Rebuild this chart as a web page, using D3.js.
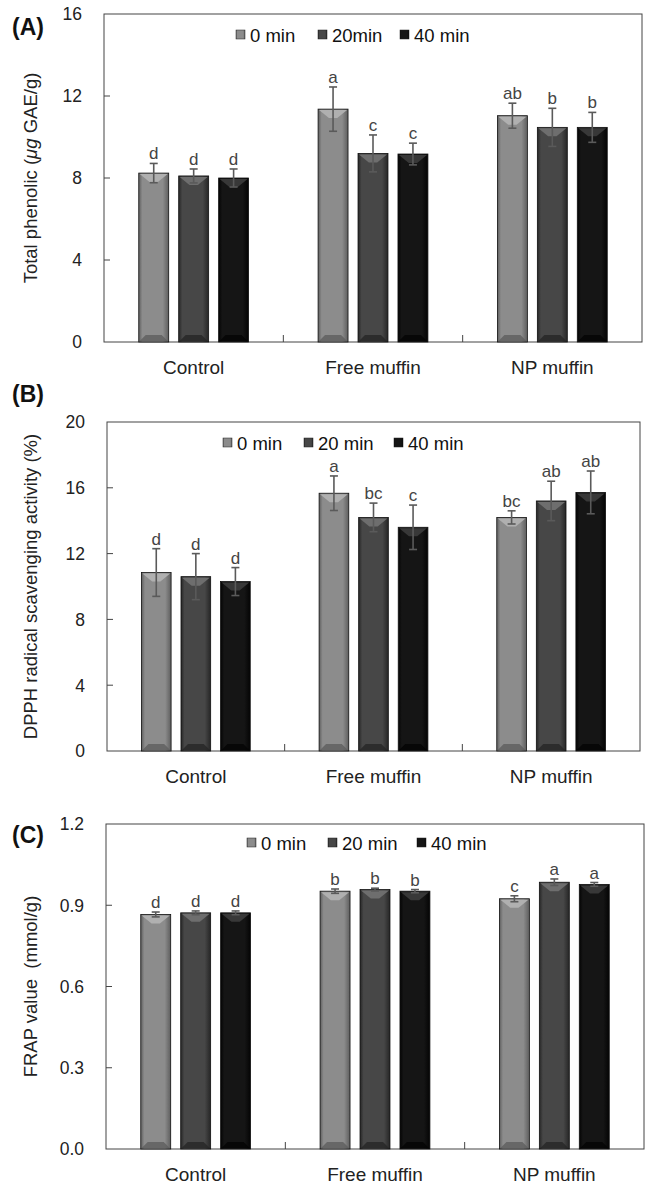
<!DOCTYPE html>
<html>
<head>
<meta charset="utf-8">
<script src="https://cdn.jsdelivr.net/npm/d3@7"></script>
<style>
  body { margin: 0; background: #fff; }
  svg { display: block; font-family: "Liberation Sans", Arial, sans-serif; }
</style>
</head>
<body>
<svg id="chart" width="649" height="1184"></svg>
<script>
// categories and series
var categories = ["Control", "Free muffin", "NP muffin"];
var seriesA = ["0 min", "20min", "40 min"];
var seriesBC = ["0 min", "20 min", "40 min"];

// (A) total phenolic
var phenolicMean = [[8.24, 8.10, 8.00], [11.36, 9.20, 9.17], [11.04, 10.47, 10.47]];
var phenolicSd = [[0.47, 0.34, 0.44], [1.08, 0.90, 0.53], [0.61, 0.93, 0.73]];
var phenolicLetters = [["d", "d", "d"], ["a", "c", "c"], ["ab", "b", "b"]];
var phenolicTicks = [0, 4, 8, 12, 16];

// (B) DPPH
var dpphMean = [[10.85, 10.6, 10.3], [15.67, 14.2, 13.6], [14.2, 15.2, 15.72]];
var dpphSd = [[1.45, 1.4, 0.85], [1.05, 0.87, 1.35], [0.4, 1.2, 1.3]];
var dpphLetters = [["d", "d", "d"], ["a", "bc", "c"], ["bc", "ab", "ab"]];
var dpphTicks = [0, 4, 8, 12, 16, 20];

// (C) FRAP
var frapMean = [[0.866, 0.872, 0.872], [0.952, 0.958, 0.952], [0.924, 0.985, 0.977]];
var frapSd = [[0.009, 0.007, 0.007], [0.008, 0.005, 0.006], [0.011, 0.012, 0.007]];
var frapLetters = [["d", "d", "d"], ["b", "b", "b"], ["c", "a", "a"]];
var frapTicks = [0, 0.3, 0.6, 0.9, 1.2];

// bar colours: [edge, base, highlight]
var barColors = [["#5e5e5e", "#8c8c8c", "#b0b0b0"], ["#262626", "#474747", "#6e6e6e"], ["#040404", "#151515", "#383838"]];

var svg = d3.select("#chart");
var defs = svg.append("defs");

barColors.forEach(function (c, i) {
  var g = defs.append("linearGradient").attr("id", "grad" + i)
    .attr("x1", "0%").attr("x2", "100%").attr("y1", "0%").attr("y2", "0%");
  g.append("stop").attr("offset", "0%").attr("stop-color", c[0]);
  g.append("stop").attr("offset", "12%").attr("stop-color", c[1]);
  g.append("stop").attr("offset", "80%").attr("stop-color", c[1]);
  g.append("stop").attr("offset", "100%").attr("stop-color", c[0]);
});

function drawPanel(p) {
  var chartWidth = p.right - p.left;
  var chartHeight = p.bottom - p.top;
  var chart = svg.append("g").attr("transform", `translate(${p.left}, ${p.top})`);

  var xScale = d3.scaleBand().domain(categories).range([0, chartWidth]);
  var xSub = d3.scaleBand().domain(p.series).range([0, xScale.bandwidth()])
    .paddingInner(0.25).paddingOuter(0.87);
  var yScale = d3.scaleLinear().domain(p.domain).range([chartHeight, 0]);

  // frame
  chart.append("rect")
    .attr("width", chartWidth).attr("height", chartHeight)
    .attr("fill", "none").attr("stroke", "#444").attr("stroke-width", 1);

  // y ticks (inward) and labels
  chart.selectAll(".ytick").data(p.ticks.slice(1, -1)).join("line")
    .attr("x1", 0).attr("x2", 6)
    .attr("y1", d => yScale(d)).attr("y2", d => yScale(d))
    .attr("stroke", "#444");
  chart.selectAll(".ylab").data(p.ticks).join("text")
    .attr("x", -22).attr("y", d => yScale(d))
    .attr("dy", "0.36em")
    .attr("text-anchor", "end")
    .style("font-size", "17.5px").attr("fill", "#222")
    .text(d => p.format(d));

  // category separators
  chart.selectAll(".xsep").data(categories.slice(1)).join("line")
    .attr("x1", d => xScale(d)).attr("x2", d => xScale(d))
    .attr("y1", chartHeight).attr("y2", chartHeight - 7)
    .attr("stroke", "#444");

  // category labels
  chart.selectAll(".xlab").data(categories).join("text")
    .attr("x", d => xScale(d) + xScale.bandwidth() / 2)
    .attr("y", chartHeight + 32)
    .attr("text-anchor", "middle")
    .style("font-size", "19px").attr("fill", "#222")
    .text(d => d);

  // bars
  var flat = [];
  categories.forEach(function (c, ci) {
    p.series.forEach(function (s, si) {
      flat.push({ cat: c, s: s, si: si, v: p.mean[ci][si], sd: p.sd[ci][si], letter: p.letters[ci][si] });
    });
  });

  var bars = chart.selectAll(".bar").data(flat).join("g");
  bars.append("rect")
    .attr("x", d => xScale(d.cat) + xSub(d.s))
    .attr("y", d => yScale(d.v))
    .attr("width", xSub.bandwidth())
    .attr("height", d => chartHeight - yScale(d.v))
    .attr("fill", d => "url(#grad" + d.si + ")")
    .attr("stroke", "#111").attr("stroke-width", 0.8);

  // top bevel
  bars.append("path")
    .attr("d", function (d) {
      var x = xScale(d.cat) + xSub(d.s), w = xSub.bandwidth(), y = yScale(d.v);
      return `M${x + 1},${y + 1}L${x + w - 1},${y + 1}L${x + w * 0.64},${y + 9}L${x + w * 0.36},${y + 9}Z`;
    })
    .attr("fill", d => barColors[d.si][2]);

  // bottom bevel
  bars.append("path")
    .attr("d", function (d) {
      var x = xScale(d.cat) + xSub(d.s), w = xSub.bandwidth(), y = chartHeight;
      return `M${x + 1},${y - 1}L${x + w - 1},${y - 1}L${x + w - 7},${y - 7}L${x + 7},${y - 7}Z`;
    })
    .attr("fill", d => barColors[d.si][0]).attr("opacity", 0.8);

  // error bars
  var ex = d => xScale(d.cat) + xSub(d.s) + xSub.bandwidth() / 2;
  bars.append("line")
    .attr("x1", ex).attr("x2", ex)
    .attr("y1", d => yScale(d.v + d.sd)).attr("y2", d => yScale(d.v - d.sd))
    .attr("stroke", "#5a5a5a").attr("stroke-width", 1.6);
  bars.append("line")
    .attr("x1", d => ex(d) - 4).attr("x2", d => ex(d) + 4)
    .attr("y1", d => yScale(d.v + d.sd)).attr("y2", d => yScale(d.v + d.sd))
    .attr("stroke", "#5a5a5a").attr("stroke-width", 1.6);
  bars.append("line")
    .attr("x1", d => ex(d) - 4).attr("x2", d => ex(d) + 4)
    .attr("y1", d => yScale(d.v - d.sd)).attr("y2", d => yScale(d.v - d.sd))
    .attr("stroke", "#5a5a5a").attr("stroke-width", 1.6);

  // significance letters
  bars.append("text")
    .attr("x", ex)
    .attr("y", d => yScale(d.v + d.sd) - 4)
    .attr("text-anchor", "middle")
    .style("font-size", "17px").attr("fill", "#444")
    .text(d => d.letter);

  // legend
  var legend = svg.append("g");
  p.series.forEach(function (s, i) {
    legend.append("rect")
      .attr("x", p.legendX[i]).attr("y", p.legendY - 5)
      .attr("width", 9).attr("height", 9)
      .attr("fill", "url(#grad" + i + ")").attr("stroke", "#222").attr("stroke-width", 0.5);
    legend.append("text")
      .attr("x", p.legendX[i] + 14).attr("y", p.legendY)
      .attr("dy", "0.36em")
      .style("font-size", "18.5px").attr("fill", "#111")
      .text(s);
  });

  // panel title
  svg.append("text")
    .attr("x", 12).attr("y", p.titleY)
    .style("font-size", "23px").style("font-weight", "bold").attr("fill", "#111")
    .text(p.title);

  // y axis label
  var yl = svg.append("text")
    .attr("transform", `translate(37, ${p.top + chartHeight / 2}) rotate(-90)`)
    .attr("text-anchor", "middle")
    .style("font-size", "18.5px").attr("fill", "#222");
  p.yLabel(yl);
}

drawPanel({
  title: "(A)", titleY: 35,
  left: 104, right: 642, top: 14, bottom: 342,
  domain: [0, 16], ticks: phenolicTicks, format: d3.format("d"),
  series: seriesA, mean: phenolicMean, sd: phenolicSd, letters: phenolicLetters,
  legendX: [236, 318, 400], legendY: 35,
  yLabel: function (t) {
    t.append("tspan").text("Total phenolic (");
    t.append("tspan").style("font-style", "italic").text("μg");
    t.append("tspan").text(" GAE/g)");
  }
});

drawPanel({
  title: "(B)", titleY: 402,
  left: 107, right: 640, top: 422, bottom: 751,
  domain: [0, 20], ticks: dpphTicks, format: d3.format("d"),
  series: seriesBC, mean: dpphMean, sd: dpphSd, letters: dpphLetters,
  legendX: [223, 304, 394], legendY: 443,
  yLabel: function (t) {
    t.text("DPPH radical scavenging activity (%)");
  }
});

drawPanel({
  title: "(C)", titleY: 843,
  left: 106, right: 644, top: 824, bottom: 1149,
  domain: [0, 1.2], ticks: frapTicks, format: d3.format(".1f"),
  series: seriesBC, mean: frapMean, sd: frapSd, letters: frapLetters,
  legendX: [247, 328, 417], legendY: 843,
  yLabel: function (t) {
    t.text("FRAP value  (mmol/g)").attr("xml:space", "preserve");
  }
});
</script>
</body>
</html>
